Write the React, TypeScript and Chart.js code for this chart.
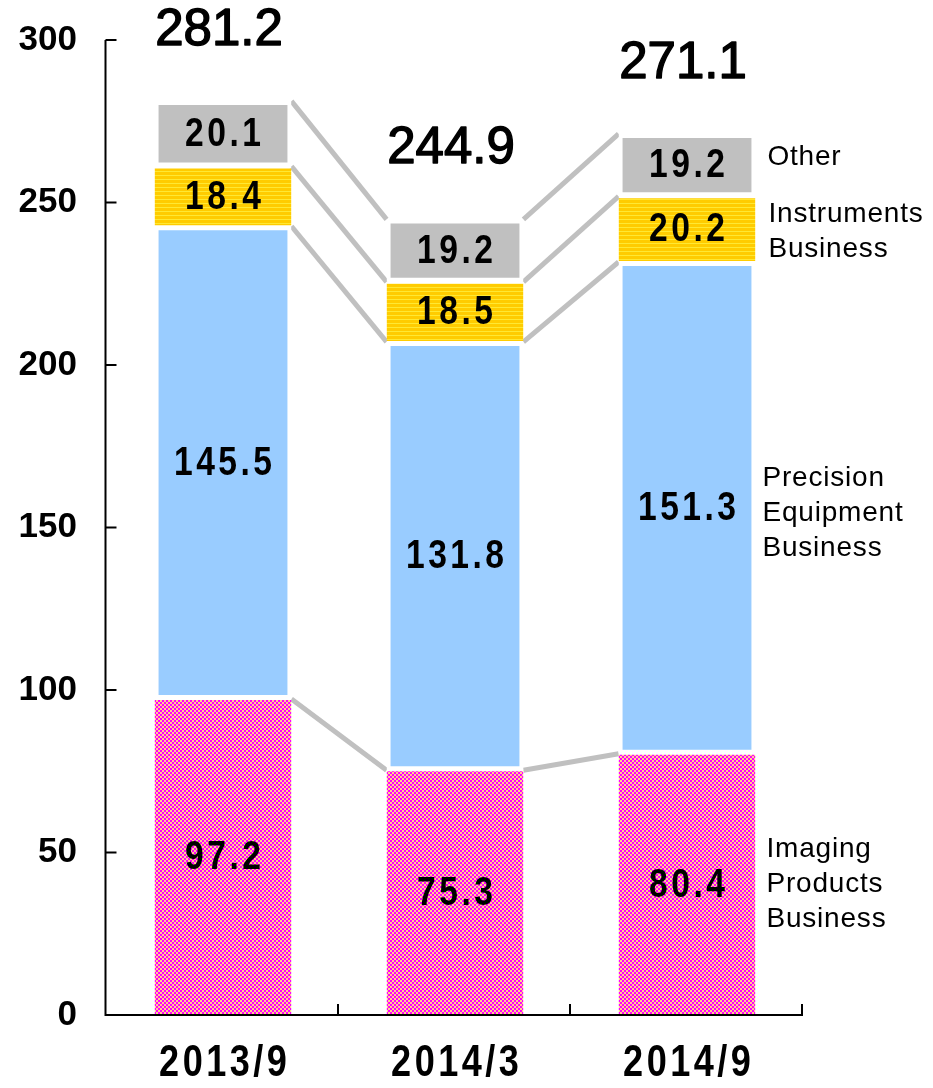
import React, { useEffect, useRef } from "react";
import { Chart, registerables } from "chart.js";

Chart.register(...registerables);

const categories = ["2013/9", "2014/3", "2014/9"];
const imaging = [97.2, 75.3, 80.4];
const precision = [145.5, 131.8, 151.3];
const instruments = [18.4, 18.5, 20.2];
const other = [20.1, 19.2, 19.2];
const totals = [281.2, 244.9, 271.1];
const seriesNames = [
  ["Imaging", "Products", "Business"],
  ["Precision", "Equipment", "Business"],
  ["Instruments", "Business"],
  ["Other"],
];
const yMin = 0;
const yMax = 300;
const yStep = 50;

const W = 933;
const H = 1088;
const FONT = '"Liberation Sans", Arial, sans-serif';

function makeChecker(): CanvasPattern | string {
  const c = document.createElement("canvas");
  c.width = 4;
  c.height = 4;
  const g = c.getContext("2d");
  if (!g) return "#FF00FF";
  g.fillStyle = "#FF00FF";
  g.fillRect(0, 0, 4, 4);
  g.fillStyle = "#FFD28C";
  g.fillRect(0, 0, 2, 2);
  g.fillRect(2, 2, 2, 2);
  return g.createPattern(c, "repeat") || "#FF00FF";
}

function makeStripes(): CanvasPattern | string {
  const c = document.createElement("canvas");
  c.width = 4;
  c.height = 4;
  const g = c.getContext("2d");
  if (!g) return "#FFCC00";
  g.fillStyle = "#FFCC00";
  g.fillRect(0, 0, 4, 4);
  g.fillStyle = "#FFE833";
  g.fillRect(0, 3, 4, 1);
  return g.createPattern(c, "repeat") || "#FFCC00";
}

function drawSpaced(
  ctx: CanvasRenderingContext2D,
  text: string,
  cx: number,
  cy: number,
  fontPx: number,
  scaleX: number,
  spacing: number
) {
  ctx.font = `bold ${fontPx}px ${FONT}`;
  ctx.textBaseline = "middle";
  ctx.textAlign = "left";
  ctx.fillStyle = "#000";
  const chars = [...text];
  const widths = chars.map((ch) => ctx.measureText(ch).width * scaleX);
  const total = widths.reduce((a, b) => a + b, 0) + spacing * (chars.length - 1);
  let x = cx - total / 2;
  chars.forEach((ch, i) => {
    ctx.save();
    ctx.translate(x, cy);
    ctx.scale(scaleX, 1);
    ctx.fillText(ch, 0, 0);
    ctx.restore();
    x += widths[i] + spacing;
  });
}

const overlayPlugin = {
  id: "overlay",
  beforeDatasetsDraw(chart: any) {
    const ctx: CanvasRenderingContext2D = chart.ctx;
    const n = categories.length;
    ctx.save();
    ctx.strokeStyle = "#C0C0C0";
    ctx.lineWidth = 5;
    ctx.lineCap = "butt";
    for (let j = 0; j < n - 1; j++) {
      for (let d = 0; d < 4; d++) {
        const meta = chart.getDatasetMeta(d);
        const a = meta.data[j].getProps(["x", "y", "width"], true);
        const b = meta.data[j + 1].getProps(["x", "y", "width"], true);
        ctx.beginPath();
        ctx.moveTo(a.x + a.width / 2, a.y);
        ctx.lineTo(b.x - b.width / 2, b.y);
        ctx.stroke();
      }
    }
    ctx.restore();
  },
  afterDraw(chart: any) {
    const ctx: CanvasRenderingContext2D = chart.ctx;
    const area = chart.chartArea;
    const ys = chart.scales.y;
    const n = categories.length;
    const axisX = area.left - 1.5;
    ctx.save();
    // axes
    ctx.strokeStyle = "#000";
    ctx.lineWidth = 2;
    ctx.beginPath();
    ctx.moveTo(axisX, area.top);
    ctx.lineTo(axisX, area.bottom);
    ctx.lineTo(area.right, area.bottom);
    ctx.stroke();
    for (let v = yMin; v <= yMax; v += yStep) {
      const py = ys.getPixelForValue(v);
      ctx.beginPath();
      ctx.moveTo(axisX, py);
      ctx.lineTo(axisX + 11, py);
      ctx.stroke();
    }
    const cw = (area.right - area.left) / n;
    for (let k = 1; k <= n; k++) {
      const px = area.left + cw * k - 1;
      ctx.beginPath();
      ctx.moveTo(px, area.bottom);
      ctx.lineTo(px, area.bottom - 11);
      ctx.stroke();
    }
    // segment labels
    const seriesValues = [imaging, precision, instruments, other];
    for (let d = 0; d < 4; d++) {
      const meta = chart.getDatasetMeta(d);
      for (let j = 0; j < n; j++) {
        const el = meta.data[j].getProps(["x", "y", "base"], true);
        const cy = (el.y + el.base) / 2;
        drawSpaced(ctx, seriesValues[d][j].toFixed(1), el.x, cy + 1, 41, 0.82, 3.5);
      }
    }
    // totals
    const topMeta = chart.getDatasetMeta(3);
    ctx.font = `51px ${FONT}`;
    ctx.textAlign = "center";
    ctx.textBaseline = "middle";
    ctx.fillStyle = "#000";
    ctx.strokeStyle = "#000";
    ctx.lineWidth = 1.4;
    ctx.lineJoin = "round";
    for (let j = 0; j < n; j++) {
      const el = topMeta.data[j].getProps(["x", "y"], true);
      const t = totals[j].toFixed(1);
      ctx.fillText(t, el.x - 4, el.y - 70);
      ctx.strokeText(t, el.x - 4, el.y - 70);
    }
    // x labels
    for (let j = 0; j < n; j++) {
      const el = topMeta.data[j].getProps(["x"], true);
      drawSpaced(ctx, categories[j], el.x, area.bottom + 49, 44, 0.82, 3.5);
    }
    // series names at right of last bar
    ctx.font = `28px ${FONT}`;
    (ctx as any).letterSpacing = "0.8px";
    ctx.textAlign = "left";
    ctx.textBaseline = "middle";
    ctx.fillStyle = "#000";
    const lineH = 35;
    const shifts = [0, 5, 3, -8];
    const xShifts = [0, -4, 2, 1];
    for (let d = 0; d < 4; d++) {
      const el = chart.getDatasetMeta(d).data[n - 1].getProps(["x", "y", "base", "width"], true);
      const mid = (el.y + el.base) / 2;
      const lines = seriesNames[d];
      const x0 = el.x + el.width / 2 + 11 + xShifts[d];
      lines.forEach((ln, i) => {
        ctx.fillText(ln, x0, mid + shifts[d] + (i - (lines.length - 1) / 2) * lineH);
      });
    }
    (ctx as any).letterSpacing = "0px";
    ctx.restore();
  },
};

export default function App() {
  const ref = useRef<HTMLCanvasElement | null>(null);
  useEffect(() => {
    if (!ref.current) return;
    const checker = makeChecker();
    const stripes = makeStripes();
    const chart = new Chart(ref.current, {
      type: "bar",
      data: {
        labels: categories,
        datasets: [
          {
            label: "Imaging Products Business",
            data: imaging,
            backgroundColor: checker as any,
            borderColor: "#FFFFFF",
            borderWidth: { top: 1, left: 0, right: 0, bottom: 0 } as any,
            borderSkipped: false,
          },
          {
            label: "Precision Equipment Business",
            data: precision,
            backgroundColor: "#99CCFF",
            borderColor: "#FFFFFF",
            borderWidth: 4,
            borderSkipped: false,
          },
          {
            label: "Instruments Business",
            data: instruments,
            backgroundColor: stripes as any,
            borderColor: "#FFFFFF",
            borderWidth: { top: 2, left: 0, right: 0, bottom: 1 } as any,
            borderSkipped: false,
          },
          {
            label: "Other",
            data: other,
            backgroundColor: "#C0C0C0",
            borderColor: "#FFFFFF",
            borderWidth: 4,
            borderSkipped: false,
          },
        ],
      },
      options: {
        responsive: false,
        animation: false,
        devicePixelRatio: 1,
        layout: { padding: { left: 0, top: 40, right: 130, bottom: 0 } },
        datasets: { bar: { categoryPercentage: 1, barPercentage: 0.59 } },
        plugins: {
          legend: { display: false },
          tooltip: { enabled: false },
          title: { display: false },
        },
        scales: {
          x: {
            stacked: true,
            grid: { display: false, drawTicks: false },
            border: { display: false },
            ticks: { display: false },
            afterFit: (s: any) => {
              s.height = 73;
              s.paddingLeft = 0;
              s.paddingRight = 0;
            },
          },
          y: {
            stacked: true,
            min: yMin,
            max: yMax,
            grid: { display: false, drawTicks: false },
            border: { display: false },
            ticks: {
              stepSize: yStep,
              padding: 30,
              color: "#000",
              font: { family: FONT, size: 35, weight: "bold" },
            },
            afterFit: (s: any) => {
              s.width = 107;
              s.paddingTop = 0;
              s.paddingBottom = 0;
            },
          },
        },
      },
      plugins: [overlayPlugin],
    });
    return () => chart.destroy();
  }, []);
  return (
    <div style={{ position: "absolute", left: 0, top: 0, width: W, height: H, background: "#fff" }}>
      <canvas ref={ref} width={W} height={H} style={{ display: "block" }} />
    </div>
  );
}
